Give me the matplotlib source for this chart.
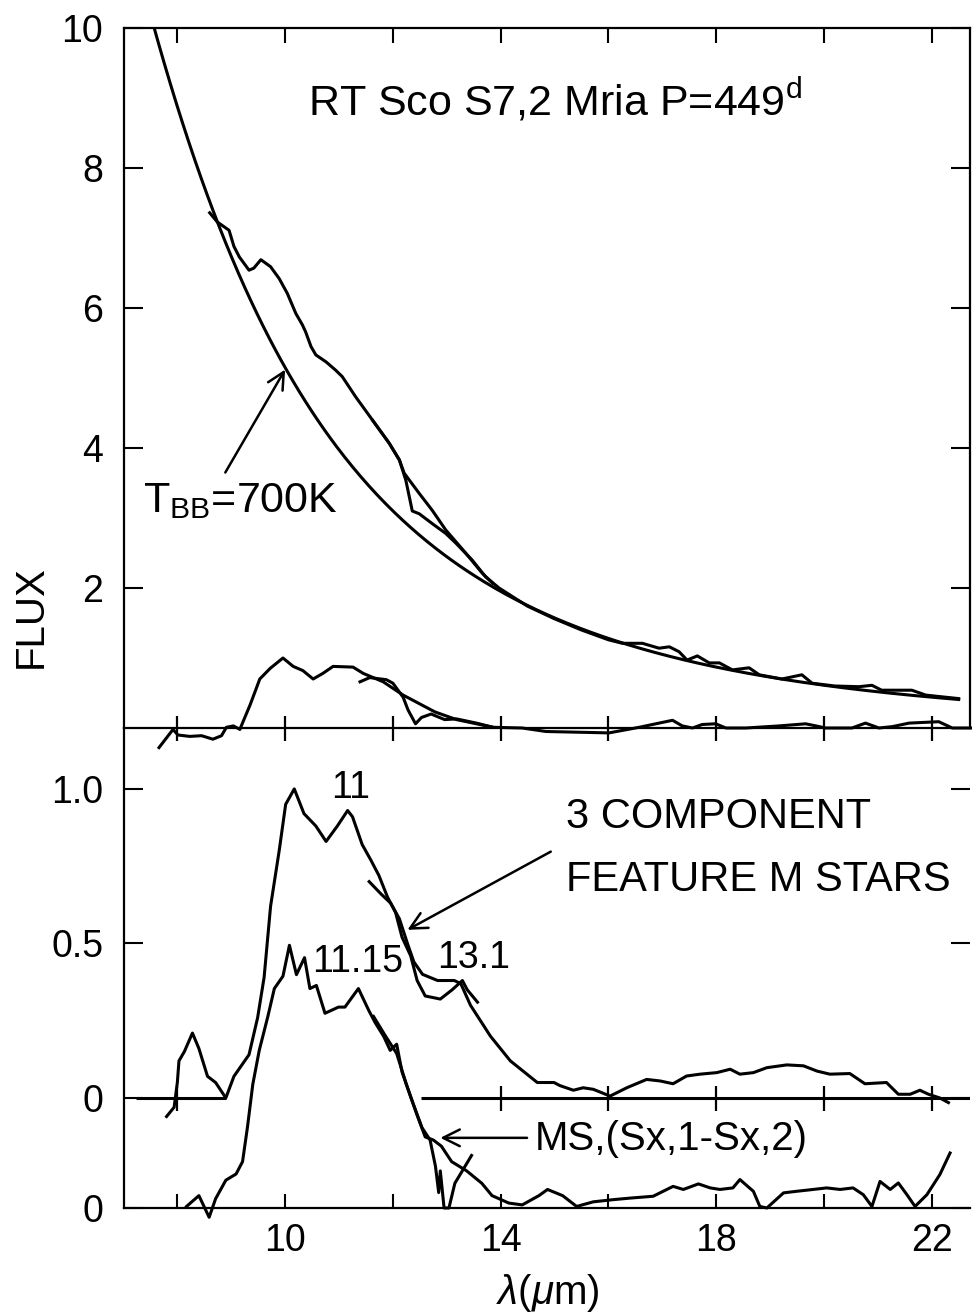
import numpy as np
import matplotlib
matplotlib.use('Agg')
import matplotlib.pyplot as plt

plt.rcParams['font.family'] = 'Liberation Sans'
plt.rcParams['mathtext.fontset'] = 'custom'
plt.rcParams['mathtext.rm'] = 'Liberation Sans'
plt.rcParams['mathtext.it'] = 'Liberation Sans:italic'

# blackbody fit
T_BB = 700.0
BB_AT_10UM = 5.15

# observed spectrum, short-wave segment (top panel)
sw_x = [8.60, 8.74, 8.96, 9.05, 9.15, 9.33, 9.42, 9.55, 9.73, 9.89, 10.04, 10.20, 10.32, 10.38,
        10.48, 10.57, 10.76, 10.94, 11.06, 11.31, 11.62, 11.93, 12.12, 12.21, 12.49, 12.73,
        12.98, 13.35, 13.66, 13.85]
sw_y = [7.36, 7.23, 7.11, 6.88, 6.73, 6.54, 6.57, 6.69, 6.59, 6.42, 6.21, 5.92, 5.76, 5.66,
        5.45, 5.33, 5.23, 5.11, 5.02, 4.73, 4.40, 4.07, 3.83, 3.64, 3.35, 3.11,
        2.83, 2.50, 2.21, 2.07]

# observed spectrum, long-wave segment (top panel)
lw_x = [11.62, 11.93, 12.12, 12.24, 12.36, 12.49, 12.73, 12.98, 13.17, 13.47, 13.72, 13.97,
        14.5, 15.0, 15.5, 16.0, 16.26, 16.63, 16.94, 17.13, 17.31, 17.46, 17.65, 17.87, 18.06,
        18.30, 18.61, 18.80, 19.22, 19.59, 19.78, 20.20, 20.65, 20.89, 21.07, 21.63, 21.89, 22.5]
lw_y = [4.40, 4.07, 3.83, 3.54, 3.10, 3.06, 2.92, 2.78, 2.64, 2.40, 2.16, 2.00,
        1.74, 1.56, 1.40, 1.26, 1.21, 1.21, 1.14, 1.16, 1.09, 0.97, 1.03, 0.93, 0.93,
        0.83, 0.86, 0.76, 0.70, 0.76, 0.64, 0.60, 0.59, 0.61, 0.54, 0.54, 0.47, 0.42]

# excess over the blackbody (top panel)
ex_sw_x = [7.66, 7.92, 8.01, 8.23, 8.45, 8.66, 8.82, 8.91, 9.04, 9.16, 9.35, 9.53, 9.72, 9.96,
           10.15, 10.33, 10.52, 10.70, 10.89, 11.26, 11.45, 11.82, 12.19, 12.78, 13.18, 13.86]
ex_sw_y = [-0.28, -0.02, -0.10, -0.12, -0.11, -0.16, -0.11, 0.01, 0.03, -0.02, 0.33, 0.70, 0.85,
           1.00, 0.88, 0.82, 0.70, 0.78, 0.88, 0.87, 0.78, 0.66, 0.47, 0.23, 0.12, 0.01]
ex_lw_x = [11.39, 11.57, 11.88, 12.00, 12.19, 12.28, 12.42, 12.53, 12.71, 12.96, 13.18, 13.55,
           13.86, 14.4, 14.84, 16.01, 16.57, 16.94, 17.19, 17.37, 17.56, 17.74, 17.99, 18.18,
           18.55, 19.17, 19.66, 19.85, 20.03, 20.52, 20.77, 21.02, 21.27, 21.58, 22.13, 22.38, 22.72]
ex_lw_y = [0.66, 0.72, 0.69, 0.64, 0.44, 0.26, 0.06, 0.15, 0.20, 0.12, 0.13, 0.07,
           0.01, 0.0, -0.05, -0.07, 0.01, 0.07, 0.11, 0.03, 0.0, 0.05, 0.06, 0.0,
           0.0, 0.03, 0.06, 0.03, 0.0, 0.0, 0.07, 0.0, 0.02, 0.07, 0.09, 0.0, 0.0]

# normalised feature, RT Sco (bottom panel, upper curve)
rt_sw_x = [7.80, 7.94, 8.00, 8.03, 8.13, 8.28, 8.40, 8.56, 8.71, 8.90, 9.05, 9.33, 9.49, 9.61,
           9.73, 9.89, 10.01, 10.17, 10.35, 10.57, 10.76, 10.97, 11.16, 11.25, 11.43, 11.59,
           11.74, 11.90, 12.05, 12.17, 12.33, 12.45, 12.60, 12.88, 13.10, 13.29, 13.38, 13.57]
rt_sw_y = [-0.06, -0.03, 0.05, 0.12, 0.15, 0.21, 0.16, 0.07, 0.05, 0.00, 0.07, 0.14, 0.26, 0.39,
           0.62, 0.80, 0.95, 1.00, 0.92, 0.88, 0.83, 0.88, 0.93, 0.91, 0.82, 0.77,
           0.72, 0.65, 0.60, 0.52, 0.46, 0.38, 0.33, 0.32, 0.35, 0.38, 0.35, 0.31]
rt_lw_x = [11.56, 11.78, 11.96, 12.12, 12.27, 12.39, 12.55, 12.83, 13.14, 13.26, 13.44, 13.81,
           14.18, 14.68, 14.99, 15.10, 15.35, 15.53, 15.72, 16.03, 16.34, 16.71, 16.96, 17.20,
           17.45, 17.70, 18.01, 18.26, 18.44, 18.69, 18.94, 19.31, 19.62, 19.87, 20.11, 20.48,
           20.76, 21.16, 21.38, 21.60, 21.78, 21.94, 22.15, 22.31]
rt_lw_y = [0.70, 0.66, 0.63, 0.58, 0.50, 0.44, 0.40, 0.38, 0.38, 0.37, 0.30, 0.20,
           0.12, 0.05, 0.05, 0.04, 0.025, 0.033, 0.028, 0.006, 0.033, 0.06, 0.055, 0.046,
           0.071, 0.077, 0.082, 0.093, 0.077, 0.082, 0.098, 0.107, 0.104, 0.087, 0.077, 0.079,
           0.046, 0.05, 0.012, 0.012, 0.025, 0.012, 0.0, -0.015]

# mean MS,(Sx,1-Sx,2) template (bottom panel, lower curve, own zero)
ms_offset = -0.356
ms_sw_x = [8.17, 8.40, 8.59, 8.71, 8.90, 9.09, 9.21, 9.30, 9.40, 9.52, 9.68, 9.80, 9.96, 10.08,
           10.21, 10.36, 10.46, 10.58, 10.74, 10.99, 11.11, 11.36, 11.55, 11.67, 11.83, 11.95,
           12.07, 12.17, 12.35, 12.54, 12.69, 12.79, 12.85, 12.88, 12.95, 13.04, 13.15, 13.46]
ms_sw_y = [0.005, 0.04, -0.03, 0.03, 0.09, 0.11, 0.15, 0.26, 0.40, 0.51, 0.62, 0.71, 0.75, 0.85,
           0.755, 0.81, 0.71, 0.72, 0.63, 0.65, 0.65, 0.71, 0.64, 0.60, 0.555, 0.51,
           0.53, 0.44, 0.35, 0.26, 0.22, 0.135, 0.05, 0.12, 0.0, 0.0, 0.08, 0.17]
ms_lw_x = [11.64, 11.85, 12.07, 12.25, 12.45, 12.60, 12.75, 12.90, 13.09, 13.37, 13.65, 13.84,
           14.15, 14.40, 14.71, 14.87, 15.15, 15.41, 15.72, 16.09, 16.40, 16.83, 17.20, 17.39,
           17.67, 17.89, 18.07, 18.31, 18.44, 18.69, 18.81, 18.94, 19.25, 19.49, 19.80, 20.05,
           20.30, 20.54, 20.73, 20.89, 21.04, 21.23, 21.38, 21.54, 21.69, 21.91, 22.15, 22.34]
ms_lw_y = [0.62, 0.56, 0.50, 0.40, 0.30, 0.23, 0.22, 0.20, 0.15, 0.12, 0.08, 0.04,
           0.016, 0.01, 0.04, 0.06, 0.04, 0.005, 0.02, 0.027, 0.032, 0.038, 0.07, 0.06,
           0.078, 0.065, 0.06, 0.065, 0.092, 0.054, 0.005, 0.0, 0.049, 0.054, 0.06, 0.065,
           0.06, 0.065, 0.043, 0.005, 0.086, 0.06, 0.081, 0.043, 0.005, 0.043, 0.108, 0.178]

x_ticks = [8, 10, 12, 14, 16, 18, 20, 22]
x_labels = ['', '10', '', '14', '', '18', '', '22']
zero_ticks = [8, 14, 16, 18, 20, 22]


def planck(wl_um, t):
    return wl_um ** -5.0 / np.expm1(14387.77 / (wl_um * t))


wl_bb = np.linspace(7.3, 22.5, 400)
flux_bb = BB_AT_10UM * planck(wl_bb, T_BB) / planck(10.0, T_BB)

XMIN, XMAX = 7.01, 22.71
LW = 2.2
TICK_FS = 27
TXT_FS = 30

fig = plt.figure(figsize=(9.72, 13.13), dpi=100)
ax2 = fig.add_axes([124 / 972, 1 - 1208 / 1313, 846 / 972, 480 / 1313])
ax1 = fig.add_axes([124 / 972, 1 - 728 / 1313, 846 / 972, 700 / 1313])
ax1.patch.set_alpha(0)

# --- top panel: spectrum, blackbody and excess ---
ax1.plot(wl_bb, flux_bb, color='k', lw=LW)
ax1.plot(sw_x, sw_y, color='k', lw=LW)
ax1.plot(lw_x, lw_y, color='k', lw=LW)
ax1.plot(ex_sw_x, ex_sw_y, color='k', lw=LW, clip_on=False)
ax1.plot(ex_lw_x, ex_lw_y, color='k', lw=LW, clip_on=False)
ax1.plot(x_ticks, [0] * len(x_ticks), ls='none', marker='|', ms=18, mew=1.6,
         color='k', clip_on=False)

ax1.set_xlim(XMIN, XMAX)
ax1.set_ylim(0, 10)
ax1.set_xticks(x_ticks)
ax1.set_yticks([2, 4, 6, 8, 10])
ax1.tick_params(axis='x', which='both', direction='in', top=True, bottom=False,
                labelbottom=False, length=11, width=1.5)
ax1.tick_params(axis='y', direction='in', left=True, right=True, length=14, width=1.5,
                labelsize=TICK_FS, pad=15)
for s in ax1.spines.values():
    s.set_linewidth(1.6)

ax1.text(10.43, 8.76, r'RT Sco S7,2 Mria P=449$^{\rm d}$', fontsize=31)
ax1.text(7.37, 3.09, r'T$_{\rm BB}$=700K', fontsize=31)
ax1.annotate('', xy=(10.0, 5.12), xytext=(8.89, 3.65),
             arrowprops=dict(arrowstyle='->', lw=1.8, mutation_scale=30,
                             shrinkA=0, shrinkB=0, color='k'))

# --- bottom panel: normalised features ---
ax2.hlines(0, 7.24, 8.90, color='k', lw=LW)
ax2.hlines(0, 12.52, XMAX, color='k', lw=LW)
ax2.plot(zero_ticks, [0] * len(zero_ticks), ls='none', marker='|', ms=18, mew=1.6, color='k')
ax2.plot(rt_sw_x, rt_sw_y, color='k', lw=LW)
ax2.plot(rt_lw_x, rt_lw_y, color='k', lw=LW)
ax2.plot(ms_sw_x, np.array(ms_sw_y) + ms_offset, color='k', lw=LW, clip_on=False)
ax2.plot(ms_lw_x, np.array(ms_lw_y) + ms_offset, color='k', lw=LW, clip_on=False)

ax2.set_xlim(XMIN, XMAX)
ax2.set_ylim(ms_offset, 1.197)
ax2.set_xticks(x_ticks)
ax2.set_xticklabels(x_labels)
ax2.set_yticks([ms_offset, 0, 0.5, 1.0])
ax2.set_yticklabels(['0', '0', '0.5', '1.0'])
ax2.tick_params(axis='x', direction='in', top=False, bottom=True, length=10, width=1.5,
                labelsize=TICK_FS, pad=11)
ax2.tick_params(axis='y', direction='in', left=True, right=True, length=14, width=1.5,
                labelsize=TICK_FS, pad=15)
ax2.spines['top'].set_visible(False)
ax2.spines['right'].set_visible(False)
for s in ('left', 'bottom'):
    ax2.spines[s].set_linewidth(1.6)

ax2.text(11.22, 0.971, '11', ha='center', fontsize=TICK_FS)
ax2.text(10.50, 0.409, '11.15', fontsize=TICK_FS)
ax2.text(12.83, 0.42, '13.1', fontsize=TICK_FS)
ax2.text(15.21, 0.874, '3 COMPONENT', fontsize=TXT_FS)
ax2.text(15.21, 0.671, 'FEATURE M STARS', fontsize=TXT_FS)
ax2.annotate('', xy=(12.27, 0.544), xytext=(14.93, 0.797),
             arrowprops=dict(arrowstyle='->', lw=1.8, mutation_scale=30,
                             shrinkA=0, shrinkB=0, color='k'))
ax2.text(14.64, -0.167, 'MS,(Sx,1-Sx,2)', fontsize=29)
ax2.annotate('', xy=(12.88, -0.129), xytext=(14.49, -0.129),
             arrowprops=dict(arrowstyle='->', lw=1.8, mutation_scale=30,
                             shrinkA=0, shrinkB=0, color='k'))

fig.text(31 / 972, 1 - 617 / 1313, 'FLUX', rotation=90, ha='center', va='center',
         fontsize=29)
fig.text(548 / 972, 1 - 1293 / 1313, r'$\lambda$($\mu$m)', ha='center', va='center',
         fontsize=29)

fig.savefig('out.png', dpi=100)
